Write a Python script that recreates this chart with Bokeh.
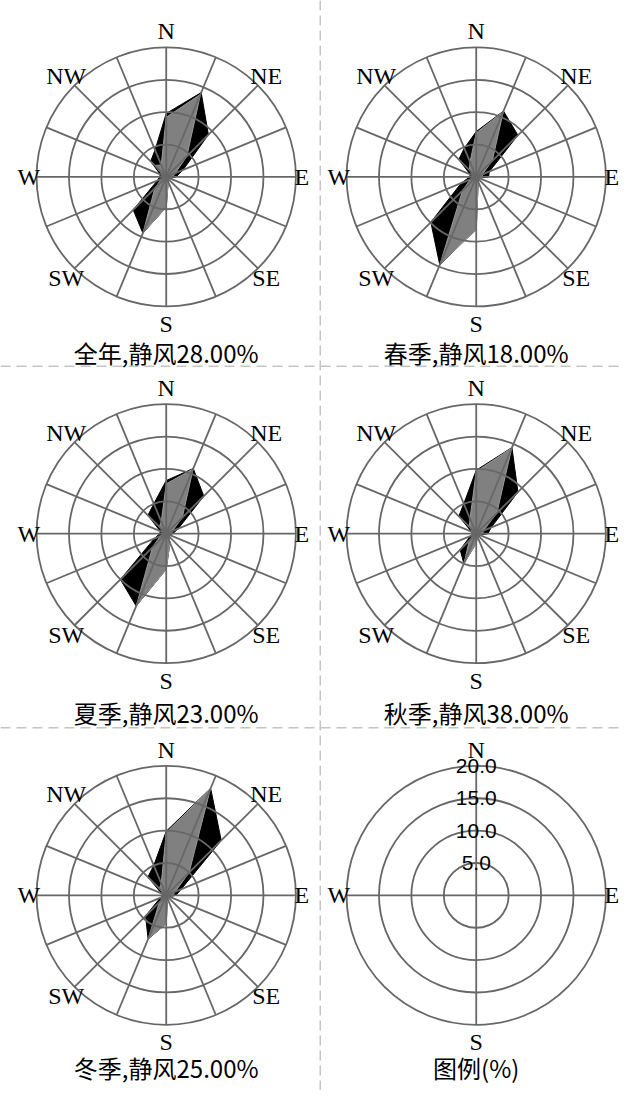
import math
from bokeh.plotting import figure
from bokeh.models import Range1d
from bokeh.core.properties import value
from bokeh.embed import file_html
from bokeh.resources import INLINE

# ---- data (percent frequency, 16 directions clockwise from N) ----
directions = ["N", "NNE", "NE", "ENE", "E", "ESE", "SE", "SSE",
              "S", "SSW", "SW", "WSW", "W", "WNW", "NW", "NNW"]

titles = ["全年,静风28.00%", "春季,静风18.00%", "夏季,静风23.00%",
          "秋季,静风38.00%", "冬季,静风25.00%"]

annual_black = [9.8, 14.1, 9.2, 2.8, 1.5, 0.6, 0.5, 0.8, 4.7, 9.4, 7.2, 1.5, 1.0, 1.0, 3.4, 4.5]
annual_gray = [9.2, 13.8, 4.5, 1.5, 1.0, 0.5, 0.5, 0.8, 4.7, 9.3, 2.5, 0.8, 0.5, 0.5, 2.5, 2.0]

spring_black = [7.0, 11.0, 9.1, 2.2, 1.9, 0.5, 0.5, 0.8, 8.1, 14.7, 9.9, 2.5, 1.0, 1.0, 3.8, 4.8]
spring_gray = [6.8, 10.9, 3.5, 1.0, 1.0, 0.5, 0.5, 0.8, 8.1, 14.6, 3.0, 1.0, 0.5, 0.5, 1.5, 2.5]

summer_black = [8.2, 10.9, 8.2, 2.0, 1.0, 0.5, 0.5, 1.5, 5.5, 12.1, 10.0, 2.0, 1.0, 1.0, 4.0, 5.0]
summer_gray = [7.7, 10.8, 3.5, 1.0, 0.8, 0.5, 0.5, 1.5, 5.5, 12.0, 3.0, 1.0, 0.5, 0.5, 1.5, 2.0]

autumn_black = [9.8, 14.4, 9.1, 2.5, 1.8, 0.5, 0.5, 0.5, 1.5, 5.0, 3.5, 1.0, 0.5, 0.8, 3.8, 5.0]
autumn_gray = [9.6, 14.3, 4.5, 1.2, 1.0, 0.5, 0.5, 0.5, 1.5, 4.9, 1.5, 0.5, 0.5, 0.5, 1.5, 2.5]

winter_black = [9.9, 17.9, 12.0, 2.5, 1.5, 0.5, 0.5, 0.5, 4.4, 7.3, 4.5, 1.0, 0.5, 0.8, 4.0, 5.0]
winter_gray = [9.7, 17.8, 5.0, 1.5, 1.0, 0.5, 0.5, 0.5, 4.4, 7.2, 1.5, 0.5, 0.5, 0.5, 1.5, 2.0]

ring_values = [5.0, 10.0, 15.0, 20.0]
ring_labels = ["5.0", "10.0", "15.0", "20.0"]
legend_title = "图例(%)"

label_dirs = ["N", "NE", "E", "SE", "S", "SW", "W", "NW"]

# ---- layout (data units = reference picture pixels) ----
PXX = 6.65  # horizontal units per percent
PXY = 6.57  # vertical units per percent
centers = [(170, 179), (488, 179), (170, 541), (488, 541), (170, 908), (488, 908)]
title_y = [357, 357, 722, 722, 1083, 1083]
series = [(annual_black, annual_gray), (spring_black, spring_gray),
          (summer_black, summer_gray), (autumn_black, autumn_gray),
          (winter_black, winter_gray)]

GRID = "#676767"
GW = 1.8

p = figure(width=620, height=1090, x_range=Range1d(0, 636), y_range=Range1d(1106, 0),
           output_backend="svg", toolbar_location=None, min_border=0,
           x_axis_type=None, y_axis_type=None)
p.grid.visible = False
p.outline_line_color = None
p.background_fill_color = "white"


def pt(cx, cy, r, ang_deg):
    a = math.radians(ang_deg)
    return cx + r * PXX * math.sin(a), cy - r * PXY * math.cos(a)


def rose_xy(cx, cy, vals):
    xs, ys = [], []
    for i, v in enumerate(vals):
        x, y = pt(cx, cy, v, i * 22.5)
        xs.append(x)
        ys.append(y)
    return xs, ys


# separators
p.segment(x0=[328], y0=[0], x1=[328], y1=[1106], line_color="#c4c4c4", line_width=1.5, line_dash="10 5")
p.segment(x0=[0, 0], y0=[371, 738], x1=[636, 636], y1=[371, 738], line_color="#c4c4c4",
          line_width=1.5, line_dash="10 6")

label_r = {"N": 148, "S": 149, "E": 139, "W": 141, "NE": 145, "SE": 145, "SW": 145, "NW": 145}
label_ang = {"N": 0, "NE": 45, "E": 90, "SE": 135, "S": 180, "SW": 225, "W": 270, "NW": 315}

for k in range(6):
    cx, cy = centers[k]
    if k < 5:
        blk, gry = series[k]
        bx, by = rose_xy(cx, cy, blk)
        p.patch(bx, by, fill_color="black", line_color="black", line_width=1)
        gx, gy = rose_xy(cx, cy, gry)
        p.patch(gx, gy, fill_color="#808080", line_color="#9a9a9a", line_width=1)
        step = 1
        dirs = label_dirs
    else:
        step = 4
        dirs = ["N", "E", "S", "W"]
    x0s, y0s, x1s, y1s = [], [], [], []
    for i in range(0, 16, step):
        x1, y1 = pt(cx, cy, ring_values[-1], i * 22.5)
        x0s.append(cx); y0s.append(cy); x1s.append(x1); y1s.append(y1)
    p.segment(x0=x0s, y0=y0s, x1=x1s, y1=y1s, line_color=GRID, line_width=GW)
    p.ellipse(x=[cx] * 4, y=[cy] * 4, width=[2 * r * PXX for r in ring_values],
              height=[2 * r * PXY for r in ring_values],
              fill_color=None, line_color=GRID, line_width=GW)
    # direction labels
    lx, ly = [], []
    for d in dirs:
        a = math.radians(label_ang[d])
        lx.append(cx + label_r[d] * math.sin(a))
        ly.append(cy - label_r[d] * math.cos(a))
    p.text(x=lx, y=ly, text=dirs, text_align="center", text_baseline="middle",
           text_font=value("Liberation Serif"), text_font_size="24px", text_color="black")
    if k < 5:
        p.text(x=[cx], y=[title_y[k]], text=[titles[k]], text_align="center",
               text_baseline="middle", text_font=value("Noto Sans CJK SC"),
               text_font_size="24px", text_color="black")
    else:
        p.text(x=[cx] * 4, y=[cy - r * PXY for r in ring_values], text=ring_labels,
               text_align="center", text_baseline="middle",
               text_font=value("Liberation Sans"), text_font_size="21px", text_color="black")
        p.text(x=[cx], y=[title_y[k]], text=[legend_title], text_align="center",
               text_baseline="middle", text_font=value("Noto Sans CJK SC"),
               text_font_size="24px", text_color="black")

open("out.html", "w").write(file_html(p, INLINE))
